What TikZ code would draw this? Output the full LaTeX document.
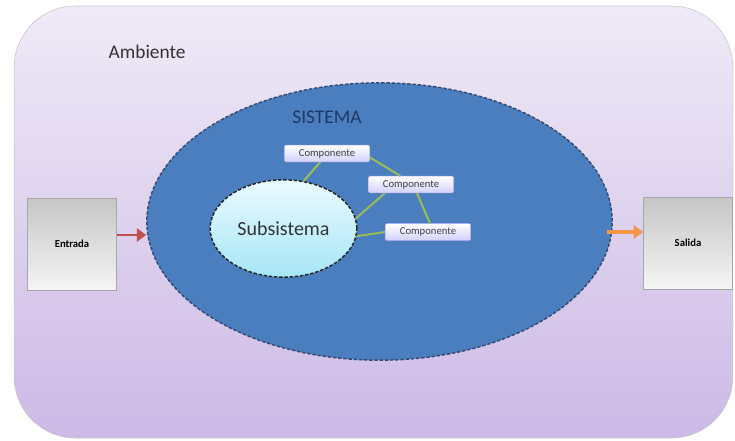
\documentclass[tikz,border=0pt]{standalone}
\usepackage{fontspec}
\setmainfont{Carlito}
\usetikzlibrary{positioning,shapes.geometric,arrows.meta,shadows}

\definecolor{ambtop}{HTML}{EFEAF7}
\definecolor{ambbot}{HTML}{CDB9E6}
\definecolor{sisfill}{HTML}{4A7EBF}
\definecolor{sistext}{HTML}{1F3864}
\definecolor{subtop}{HTML}{EAFBFF}
\definecolor{subbot}{HTML}{A6E6F6}
\definecolor{linkgreen}{HTML}{9BBB59}
\definecolor{inred}{HTML}{C0504D}
\definecolor{outorange}{HTML}{F79646}

\tikzset{
  ambiente/.style={draw=gray!45, rounded corners=46pt, top color=ambtop, bottom color=ambbot,
    minimum width=539pt, minimum height=324pt, inner sep=0pt},
  sistema/.style={ellipse, draw=sistext!90, dash pattern=on 2.6pt off 1.3pt, line width=1.1pt, fill=sisfill,
    minimum width=349pt, minimum height=208pt, inner sep=0pt},
  subsis/.style={ellipse, draw=black!85, dash pattern=on 2.6pt off 1.3pt, line width=1.1pt, top color=subtop, bottom color=subbot,
    minimum width=110pt, minimum height=73pt, inner sep=0pt, font=\fontsize{15}{18}\selectfont, text=black!80},
  comp/.style={draw=blue!30, rounded corners=1pt, top color=white, bottom color=blue!18,
    minimum width=64pt, minimum height=12.5pt, inner sep=0pt, font=\fontsize{8}{9}\selectfont,
    text=black!75, drop shadow={opacity=0.3, shadow xshift=0.6pt, shadow yshift=-0.6pt}},
  ioblock/.style={draw=gray!70, top color=gray!45, bottom color=gray!8,
    minimum width=67pt, minimum height=69pt, inner sep=0pt, font=\bfseries\fontsize{8}{9}\selectfont},
  enlace/.style={draw=linkgreen, line width=1.5pt},
}

\begin{document}
\begin{tikzpicture}[x=0.75pt, y=-0.75pt]
  \useasboundingbox (0,0) rectangle (735,440);
  \node[ambiente] (amb) at (373.5,222) {};
  \node[anchor=west, font=\fontsize{14.5}{17}\selectfont, text=black!80] (ambtxt) at (104,52) {Ambiente};

  \node[sistema] (sis) at (379.5,221.5) {};
  \node[font=\fontsize{14.5}{17}\selectfont, text=sistext] (sistxt) at (327,117) {SISTEMA};

  \node[subsis] (sub) at (283.5,228.5) {Subsistema};
  \node[comp] (c1) at (327,153.5) {Componente};
  \node[comp] (c2) at (411,184.5) {Componente};
  \node[comp] (c3) at (428,232) {Componente};

  % enlaces entre componentes
  \draw[enlace] ([xshift=-5pt]c1.south) -- (sub.67);
  \draw[enlace] ([yshift=-3pt]c1.east) -- ([xshift=-8pt]c2.north);
  \draw[enlace] ([xshift=-19.5pt]c2.south) -- (sub.8);
  \draw[enlace] ([xshift=4.5pt]c2.south) -- ([xshift=1.5pt]c3.north);
  \draw[enlace] (c3.west) -- (sub.-6);

  \node[ioblock] (ent) at (72,244) {Entrada};
  \node[ioblock] (sal) at (688,243) {Salida};

  \draw[-{Triangle[width=10pt,length=7pt]}, line width=2.2pt, draw=inred, fill=inred] (ent.east |- 0,235) -- (sis.west |- 0,235);
  \draw[-{Triangle[width=10pt,length=7pt]}, line width=3.4pt, draw=outorange, fill=outorange] (sis.east |- 0,232) ++(-6,0) -- (sal.west |- 0,232);
\end{tikzpicture}
\end{document}
